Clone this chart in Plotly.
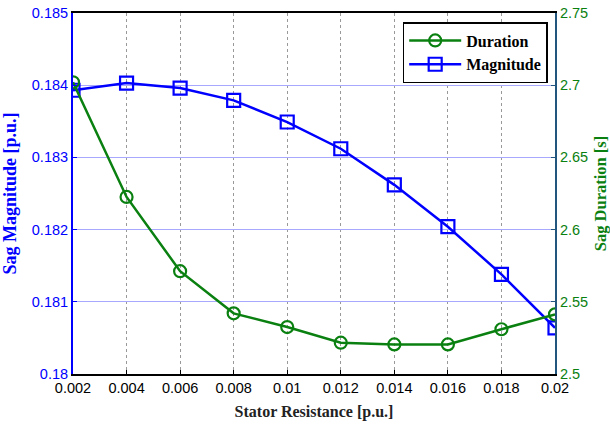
import plotly.graph_objects as go

resistance = [0.002, 0.004, 0.006, 0.008, 0.010, 0.012, 0.014, 0.016, 0.018, 0.020]
duration = [2.702, 2.6226, 2.5712, 2.542, 2.5325, 2.5217, 2.5205, 2.5205, 2.531, 2.5413]
magnitude = [0.18393, 0.18403, 0.18396, 0.18379, 0.18349, 0.18312, 0.18262, 0.18204, 0.18138, 0.18064]
x_tick_labels = ["0.002", "0.004", "0.006", "0.008", "0.01", "0.012", "0.014", "0.016", "0.018", "0.02"]
left_ticks = [0.18, 0.181, 0.182, 0.183, 0.184, 0.185]
left_tick_labels = ["0.18", "0.181", "0.182", "0.183", "0.184", "0.185"]
right_ticks = [2.5, 2.55, 2.6, 2.65, 2.7, 2.75]
right_tick_labels = ["2.5", "2.55", "2.6", "2.65", "2.7", "2.75"]

GREEN = "#0a8010"
BLUE = "#0000ff"

fig = go.Figure()
fig.add_trace(go.Scatter(
    x=resistance, y=duration, name="Duration", yaxis="y2",
    mode="lines+markers",
    line=dict(color=GREEN, width=2.5),
    marker=dict(symbol="circle-open", size=12, color=GREEN, line=dict(width=2.2, color=GREEN)),
))
fig.add_trace(go.Scatter(
    x=resistance, y=magnitude, name="Magnitude", yaxis="y",
    mode="lines+markers",
    line=dict(color=BLUE, width=2.5),
    marker=dict(symbol="square-open", size=13, color=BLUE, line=dict(width=2.2, color=BLUE)),
))

fig.update_layout(
    width=610, height=429,
    margin=dict(l=73, r=55, t=13, b=55, autoexpand=False),
    paper_bgcolor="white", plot_bgcolor="white",
    showlegend=True,
    legend=dict(
        x=0.684, y=0.975, xanchor="left", yanchor="top",
        bordercolor="black", borderwidth=1.5, bgcolor="white",
        font=dict(family="Liberation Serif", size=16, color="black", weight="bold"),
        tracegroupgap=0, itemwidth=52,
    ),
    xaxis=dict(
        range=[0.002, 0.02], automargin=False,
        tickvals=resistance, ticktext=x_tick_labels,
        showline=True, linecolor="black", linewidth=2, mirror=True,
        ticks="inside", ticklen=4, tickcolor="black",
        showgrid=True, gridcolor="#999999", griddash="dot", gridwidth=1,
        zeroline=False,
        tickfont=dict(family="Liberation Sans", size=14.5, color="black"),
        title=dict(text="Stator Resistance [p.u.]", standoff=10,
                   font=dict(family="Liberation Serif", size=16, color="#222222", weight="bold")),
    ),
    yaxis=dict(
        range=[0.18, 0.185], automargin=False,
        tickvals=left_ticks, ticktext=left_tick_labels,
        showline=True, linecolor=BLUE, linewidth=2,
        ticks="inside", ticklen=4, tickcolor=BLUE,
        showgrid=True, gridcolor="#a8a8ff", gridwidth=1.2,
        zeroline=False,
        tickfont=dict(family="Liberation Sans", size=14.5, color=BLUE),
        title=dict(text="Sag Magnitude [p.u.]", standoff=12,
                   font=dict(family="Liberation Serif", size=18, color=BLUE, weight="bold")),
    ),
    yaxis2=dict(
        range=[2.5, 2.75], overlaying="y", side="right", automargin=False,
        tickvals=right_ticks, ticktext=right_tick_labels,
        showline=True, linecolor="#22567f", linewidth=2,
        ticks="inside", ticklen=4, tickcolor="#22567f",
        showgrid=False, zeroline=False,
        tickfont=dict(family="Liberation Sans", size=14.5, color=GREEN),
        title=dict(text="Sag Duration [s]", standoff=12,
                   font=dict(family="Liberation Serif", size=16.5, color=GREEN, weight="bold")),
    ),
)

fig.write_html("out.html")
